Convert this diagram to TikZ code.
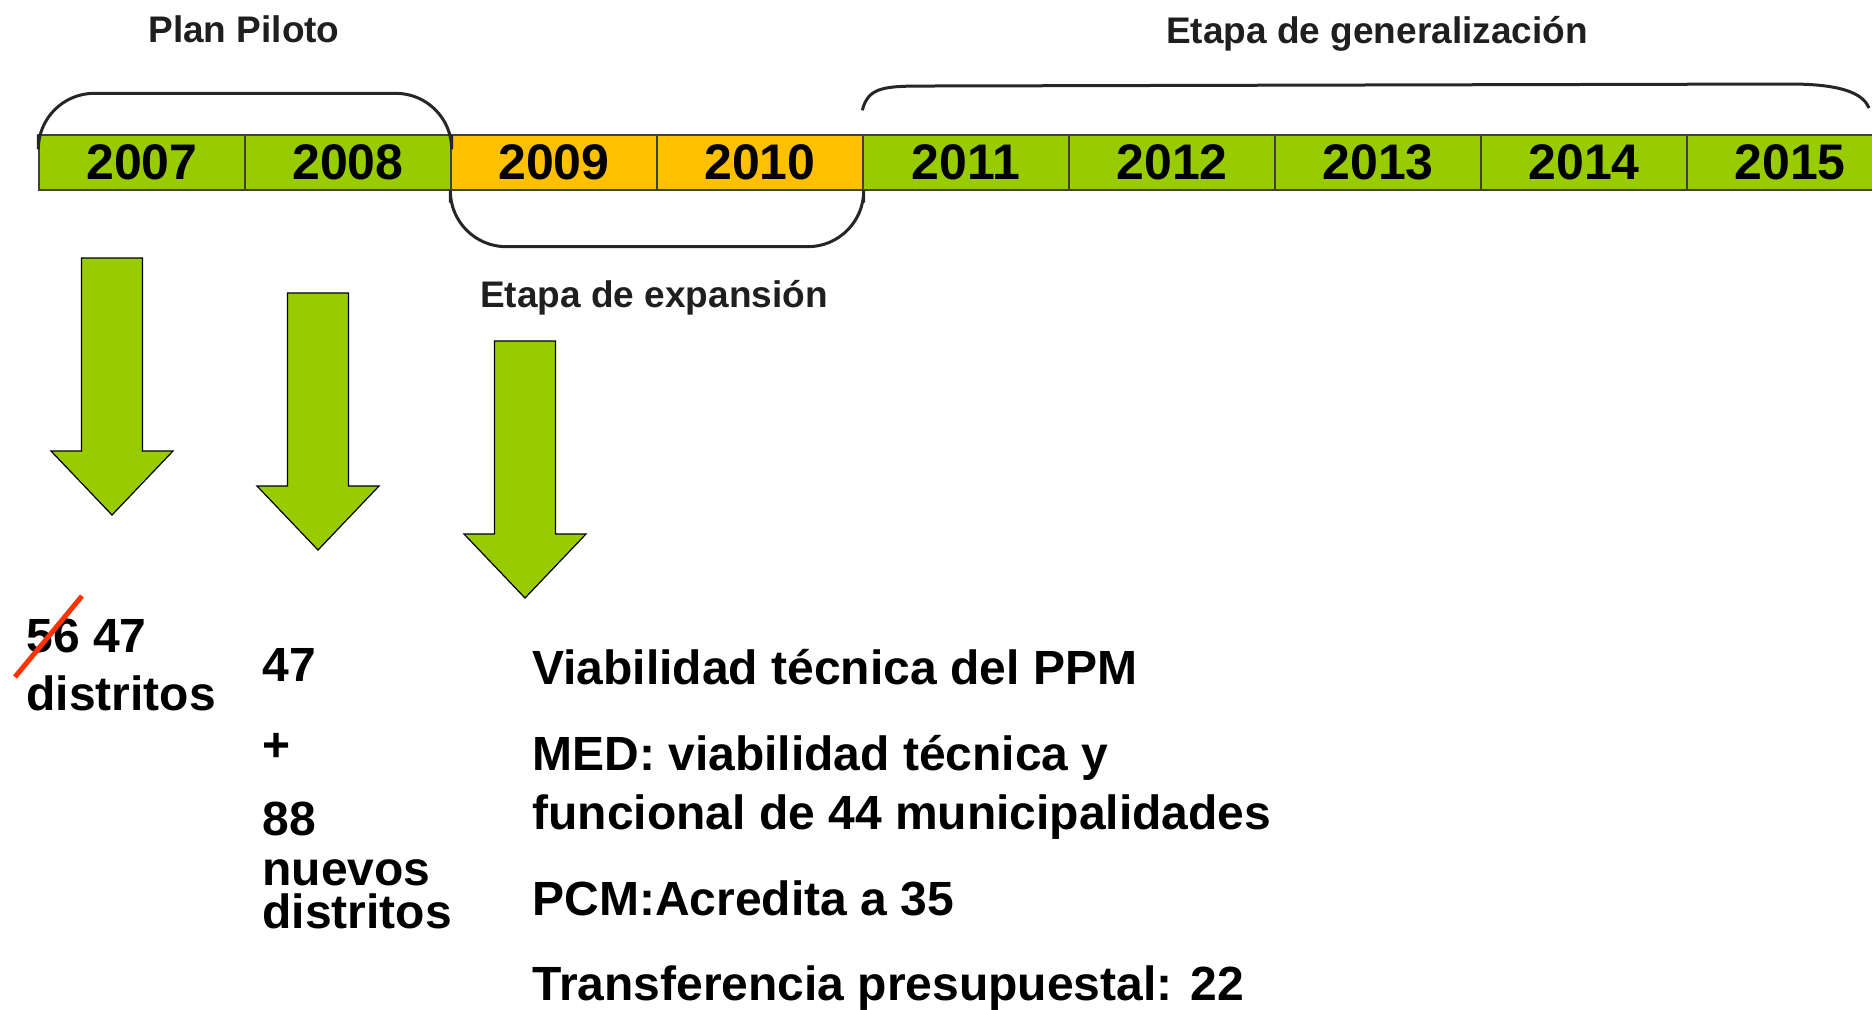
\documentclass[tikz,border=0pt]{standalone}
\usepackage{fontspec}
\setmainfont{Liberation Sans}
\usetikzlibrary{positioning}
\definecolor{barverde}{HTML}{99CC00}
\definecolor{baramarillo}{HTML}{FFC000}
\definecolor{tachado}{HTML}{FF3300}
\newcommand*{\tx}[1]{\fontsize{24}{21.5}\selectfont\bfseries #1}
\tikzset{
  yearbox/.style={draw=black!75,line width=.7pt,minimum width=103pt,minimum height=27.5pt,
    inner sep=0pt,font=\fontsize{25}{30}\selectfont\bfseries},
  etapa/.style={anchor=base,inner sep=0pt,text=black!88,font=\fontsize{18.5}{22}\selectfont\bfseries},
  llave/.style={line width=1.5pt,black!85},
  flecha/.style={draw=black,line width=.6pt,fill=barverde},
  texto/.style={anchor=base west,inner sep=0pt,font=\tx}
}

\begin{document}
\begin{tikzpicture}[x=.5pt,y=-.5pt]
\useasboundingbox (0,0) rectangle (1872,1009);
% barra de anos
\foreach \yr [count=\i from 0] in {2007,...,2015} {
  \ifnum\i=2 \def\col{baramarillo}\else\ifnum\i=3 \def\col{baramarillo}\else\def\col{barverde}\fi\fi
  \node[yearbox,fill=\col] (y\yr) at (142+\i*206,162.5) {\yr};
}

% llaves
\draw[llave,rounded corners=28] (y2007.north west) -- ++(0,-41) -| (y2008.north east);
\draw[llave,rounded corners=28] ([yshift=-6pt]y2009.south west) -- ++(0,44) -| ([yshift=-6pt]y2010.south east);
\draw[llave] ([yshift=12pt]y2011.north west) .. controls ++(6,-24) and (885,86) .. (930,86)
  -- (1790,84) .. controls (1848,84) and (1864,96) .. (1869,108);

\node[etapa] (plan) at (244,42) {Plan Piloto};
\node[etapa] (gen) at (1377,43) {Etapa de generalización};
\node[etapa] (exp) at (654,307) {Etapa de expansión};

% flechas
\foreach \x/\y in {112/258,318/293,525/341}
  \draw[flecha] (\x-30.5,\y) -- (\x+30.5,\y) -- (\x+30.5,\y+193) -- (\x+61,\y+193)
    -- (\x,\y+257) -- (\x-61,\y+193) -- (\x-30.5,\y+193) -- cycle;

% textos
\node[texto] (c1a) at (26,652) {56 47};
\node[texto] (c1b) at (26,710) {distritos};
\draw[tachado,line width=2.5pt] (15,677) -- (82,596);

\node[texto] (c2a) at (262,681) {47};
\node[texto] (c2b) at (262,761) {+};
\node[texto] (c2c) at (262,835) {88};
\node[texto,align=left] (c2d) at (262,928) {nuevos\\distritos};

\node[texto] (c3a) at (532,684) {Viabilidad técnica del PPM};
\node[texto] (c3b) at (532,770) {MED: viabilidad técnica y};
\node[texto] (c3c) at (532,829) {funcional de 44 municipalidades};
\node[texto] (c3d) at (532,915) {PCM:Acredita a 35};
\node[texto] (c3e) at (532,1000) {Transferencia presupuestal: 22};
\end{tikzpicture}
\end{document}
